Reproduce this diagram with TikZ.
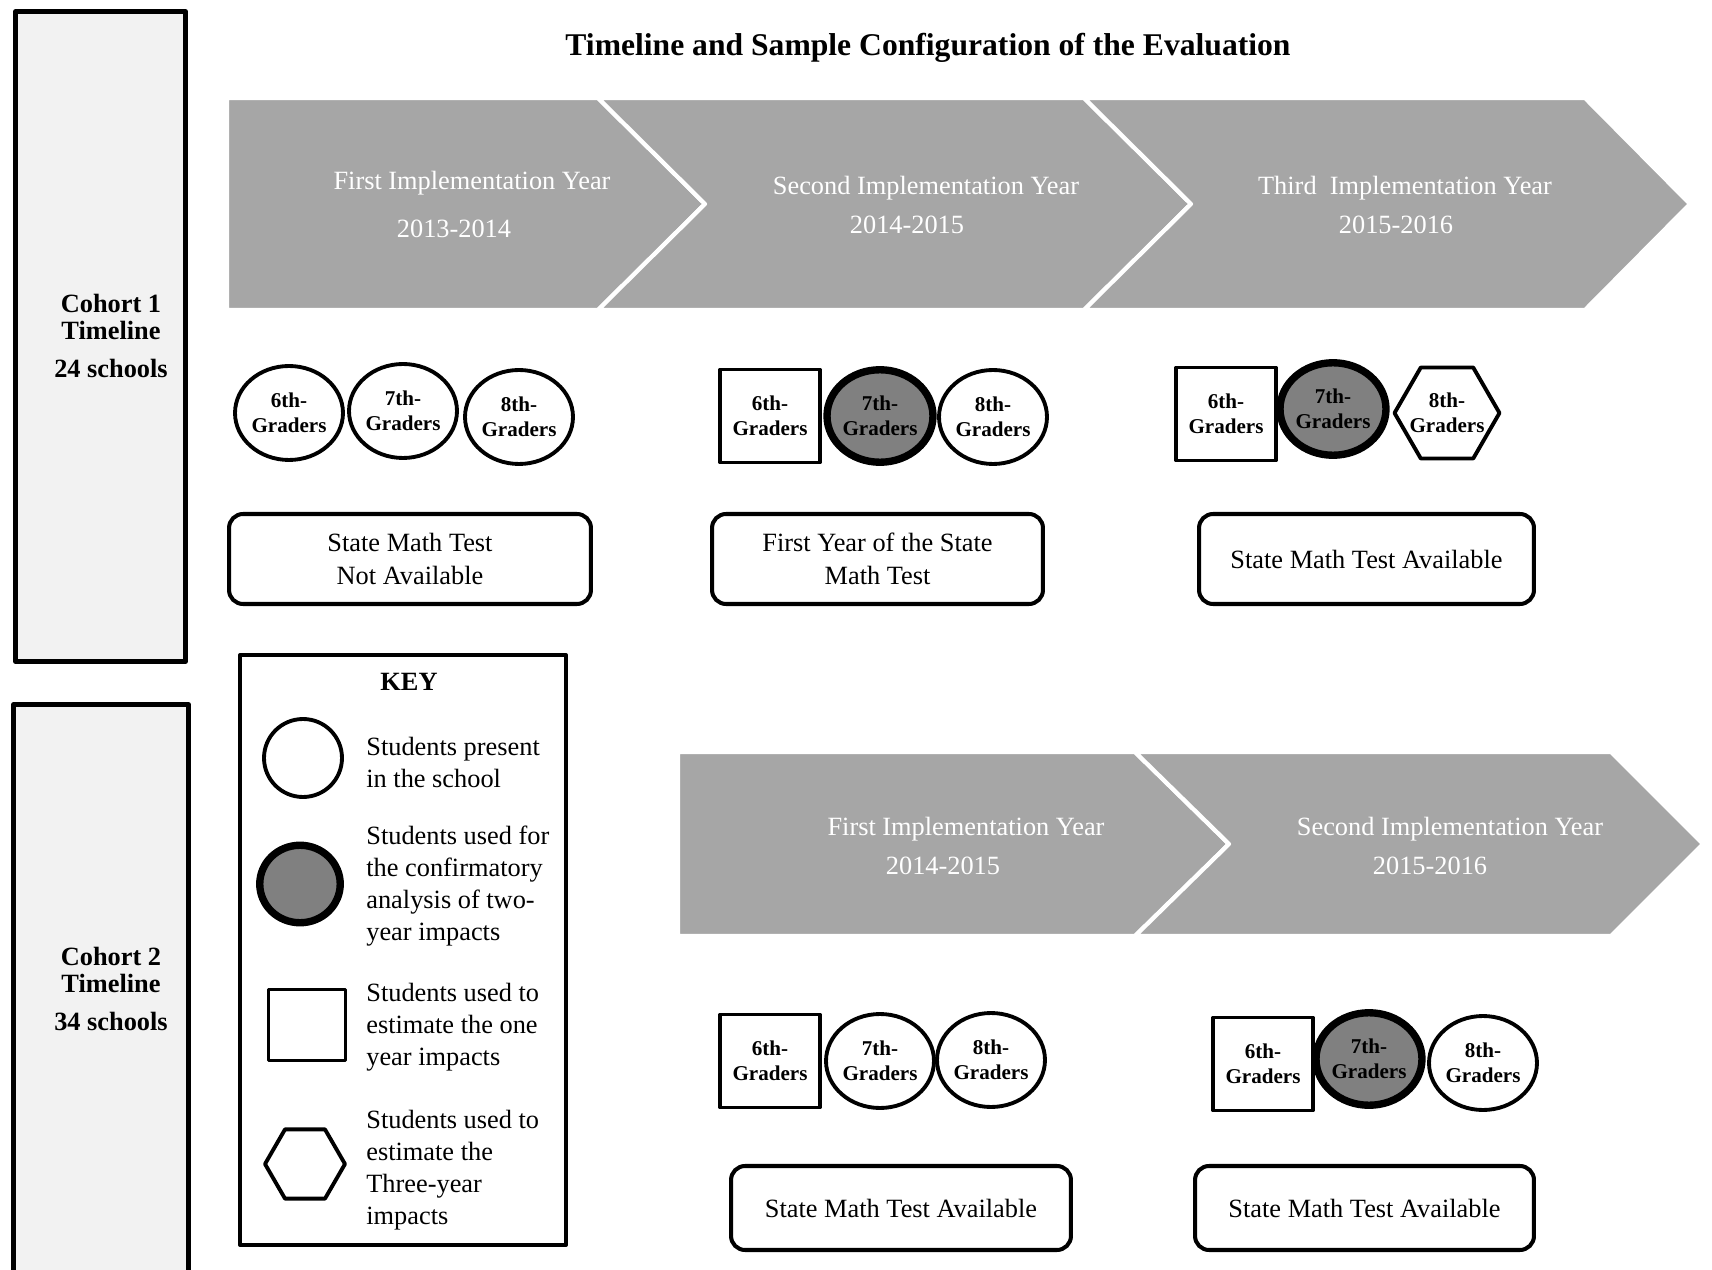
\documentclass[tikz,border=0pt]{standalone}
\usepackage{fontspec}
\setmainfont{Liberation Serif}
\usepackage{tikz}
\usetikzlibrary{shapes.geometric}
\definecolor{chevgrey}{HTML}{A6A6A6}
\definecolor{panelgrey}{HTML}{F2F2F2}
\definecolor{usedgrey}{HTML}{808080}

\begin{document}
\begin{tikzpicture}[x=0.02cm, y=0.02cm, line join=round,
  every node/.style={inner sep=0pt},
  chevron/.style={fill=chevgrey, draw=white, line width=2.4pt},
  chevtext/.style={text=white, font=\fontsize{15}{18}\selectfont},
  cohort/.style={draw=black, fill=panelgrey, line width=2.8pt},
  cohorttext/.style={align=center, font=\fontsize{15}{15.4}\selectfont\bfseries},
  grade/.style={draw=black, fill=white, line width=2.2pt, align=center, font=\fontsize{12}{14.3}\selectfont\bfseries},
  gradeoval/.style={grade, ellipse, minimum width=2.16cm, minimum height=1.88cm},
  gradeused/.style={grade, ellipse, fill=usedgrey, line width=4.2pt, minimum width=2.09cm, minimum height=1.85cm},
  gradebox/.style={grade, rectangle, minimum width=2.0cm, minimum height=1.86cm},
  gradehex/.style={grade, regular polygon, regular polygon sides=6, inner sep=-5pt, minimum size=2.1cm},
  testbox/.style={draw=black, fill=white, line width=2.3pt, rounded corners=8pt, align=center, font=\fontsize{15}{18.7}\selectfont},
  keytext/.style={anchor=west, align=left, font=\fontsize{15}{18.2}\selectfont}]
  \useasboundingbox (0,0) rectangle (1712,-1270);

  % cohort panels
  \node[cohort, minimum width=3.4cm, minimum height=13cm] (cohort1) at (100.5,-336.5) {};
  \node[cohorttext] (cohort1text) at (111,-336) {Cohort 1\\Timeline\\[6pt]24 schools};
  \node[cohort, minimum width=3.5cm, minimum height=11.5cm] (cohort2) at (101,-992) {};
  \node[cohorttext] (cohort2text) at (111,-989) {Cohort 2\\Timeline\\[6pt]34 schools};

  % title
  \node[font=\fontsize{18}{22}\selectfont\bfseries] (title) at (928,-48) {Timeline and Sample Configuration of the Evaluation};

  % cohort 1 chevrons
  \filldraw[chevron] (227,-98) -- (598,-98) -- (705,-204) -- (598,-310) -- (227,-310) -- cycle;
  \filldraw[chevron] (598,-98) -- (1084,-98) -- (1191,-204) -- (1084,-310) -- (598,-310) -- (705,-204) -- cycle;
  \filldraw[chevron] (1084,-98) -- (1585,-98) -- (1690,-204) -- (1585,-310) -- (1084,-310) -- (1191,-204) -- cycle;
  \node[chevtext] (yrA) at (472,-183) {First Implementation Year};
  \node[chevtext] (dtA) at (454,-229) {2013-2014};
  \node[chevtext] (yrB) at (926,-188) {Second Implementation Year};
  \node[chevtext] (dtB) at (907,-225) {2014-2015};
  \node[chevtext] (yrC) at (1405,-188) {Third~ Implementation Year};
  \node[chevtext] (dtC) at (1396,-225) {2015-2016};

  % cohort 1 grades
  \node[gradeoval] (aSix) at (289,-413) {6th-\\Graders};
  \node[gradeoval] (aSeven) at (403,-411) {7th-\\Graders};
  \node[gradeoval] (aEight) at (519,-417) {8th-\\Graders};
  \node[gradebox] (bSix) at (770,-416) {6th-\\Graders};
  \node[gradeused] (bSeven) at (880,-416) {7th-\\Graders};
  \node[gradeoval] (bEight) at (993,-417) {8th-\\Graders};
  \node[gradebox] (cSix) at (1226,-414) {6th-\\Graders};
  \node[gradeused] (cSeven) at (1333,-409) {7th-\\Graders};
  \node[gradehex] (cEight) at (1447,-413) {8th-\\Graders};

  % cohort 1 test boxes
  \node[testbox, minimum width=7.24cm, minimum height=1.8cm] (testA) at (410,-559) {State Math Test\\Not Available};
  \node[testbox, minimum width=6.62cm, minimum height=1.8cm] (testB) at (877.5,-559) {First Year of the State\\Math Test};
  \node[testbox, minimum width=6.7cm, minimum height=1.8cm] (testC) at (1366.5,-559) {State Math Test Available};

  % key
  \node[draw=black, line width=2.3pt, minimum width=6.52cm, minimum height=11.8cm] (keybox) at (403,-950) {};
  \node[font=\fontsize{15}{18}\selectfont\bfseries] (keytitle) at (409,-682) {KEY};
  \node[draw=black, line width=2.2pt, ellipse, minimum width=1.56cm, minimum height=1.56cm] (keyoval) at (303,-758) {};
  \node[draw=black, fill=usedgrey, line width=4.2pt, ellipse, minimum width=1.61cm, minimum height=1.55cm] (keyused) at (300,-884) {};
  \node[draw=black, line width=2.2pt, minimum width=1.54cm, minimum height=1.42cm] (keysquare) at (307,-1025) {};
  \node[draw=black, line width=2.2pt, regular polygon, regular polygon sides=6, minimum size=1.6cm] (keyhex) at (305,-1164) {};
  \node[keytext] (keyt1) at (366,-762) {Students present\\in the school};
  \node[keytext] (keyt2) at (366,-886) {Students used for\\the confirmatory\\analysis of two-\\year impacts};
  \node[keytext] (keyt3) at (366,-1027) {Students used to\\estimate the one\\year impacts};
  \node[keytext] (keyt4) at (366,-1170) {Students used to\\estimate the\\Three-year\\impacts};

  % cohort 2 chevrons
  \filldraw[chevron] (678,-752) -- (1135,-752) -- (1229,-844) -- (1135,-936) -- (678,-936) -- cycle;
  \filldraw[chevron] (1135,-752) -- (1611,-752) -- (1703,-844) -- (1611,-936) -- (1135,-936) -- (1229,-844) -- cycle;
  \node[chevtext] (yrD) at (966,-829) {First Implementation Year};
  \node[chevtext] (dtD) at (943,-866) {2014-2015};
  \node[chevtext] (yrE) at (1450,-829) {Second Implementation Year};
  \node[chevtext] (dtE) at (1430,-866) {2015-2016};

  % cohort 2 grades
  \node[gradebox] (dSix) at (770,-1061) {6th-\\Graders};
  \node[gradeoval] (dSeven) at (880,-1061) {7th-\\Graders};
  \node[gradeoval] (dEight) at (991,-1060) {8th-\\Graders};
  \node[gradebox] (eSix) at (1263,-1064) {6th-\\Graders};
  \node[gradeused] (eSeven) at (1369,-1059) {7th-\\Graders};
  \node[gradeoval] (eEight) at (1483,-1063) {8th-\\Graders};

  % cohort 2 test boxes
  \node[testbox, minimum width=6.8cm, minimum height=1.68cm] (testD) at (901,-1208) {State Math Test Available};
  \node[testbox, minimum width=6.78cm, minimum height=1.68cm] (testE) at (1364.5,-1208) {State Math Test Available};
\end{tikzpicture}
\end{document}
